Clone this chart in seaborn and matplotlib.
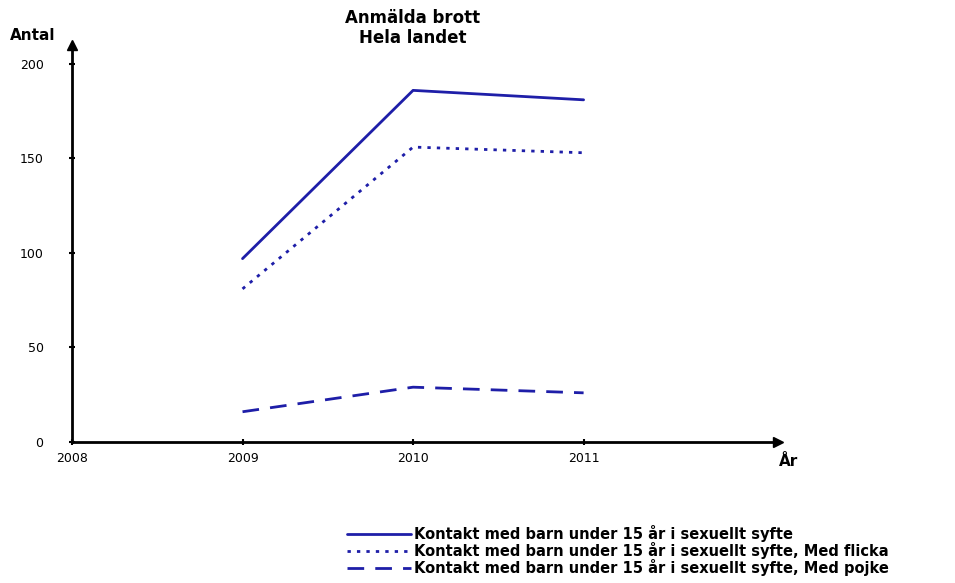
import pandas as pd
import matplotlib
matplotlib.use("Agg")
import matplotlib.pyplot as plt
import seaborn as sns

years = [2009, 2010, 2011]
serie_names = [
    "Kontakt med barn under 15 år i sexuellt syfte",
    "Kontakt med barn under 15 år i sexuellt syfte, Med flicka",
    "Kontakt med barn under 15 år i sexuellt syfte, Med pojke",
]
totalt = [97, 186, 181]
flicka = [81, 156, 153]
pojke = [16, 29, 26]

x_ticks = [2008, 2009, 2010, 2011]
y_ticks = [0, 50, 100, 150, 200]

rows = []
for namn, vals in zip(serie_names, [totalt, flicka, pojke]):
    for ar, v in zip(years, vals):
        rows.append({"ar": ar, "antal": v, "serie": namn})
df = pd.DataFrame(rows)

sns.set_style("white")
plt.rcParams["font.family"] = ["DejaVu Sans"]
plt.rcParams["text.color"] = "black"

blue = "#1e1ea8"
fig = plt.figure(figsize=(9.55, 5.83), dpi=100)
ax = fig.add_axes([72 / 955, 141 / 583, 706 / 955, 397 / 583])

sns.lineplot(data=df, x="ar", y="antal", style="serie", ax=ax,
             color=blue, linewidth=2,
             dashes={serie_names[0]: "", serie_names[1]: (1.2, 2.2),
                     serie_names[2]: (6, 4)},
             legend=False)

ax.set_xlim(2008, 2012.14)
ax.set_ylim(0, 210)
ax.set_xticks(x_ticks)
ax.set_yticks(y_ticks)
ax.set_xlabel("")
ax.set_ylabel("")
for s in ["top", "right"]:
    ax.spines[s].set_visible(False)
for s in ["left", "bottom"]:
    ax.spines[s].set_linewidth(2)
    ax.spines[s].set_color("black")
ax.tick_params(axis="both", direction="inout", length=5, width=1.5,
               labelsize=9, colors="black", bottom=True, left=True)
ax.tick_params(axis="y", pad=18)
ax.tick_params(axis="x", pad=5)

# pilar på axlarna
ax.plot(1, 0, ">", color="black", markersize=7, transform=ax.transAxes, clip_on=False)
ax.plot(0, 1, "^", color="black", markersize=7, transform=ax.transAxes, clip_on=False)

fig.text(10 / 955, 1 - 35 / 583, "Antal", fontsize=11, fontweight="bold", va="center")
fig.text(779 / 955, 1 - 461 / 583, "År", fontsize=11, fontweight="bold", va="center")
fig.text(413 / 955, 1 - 28 / 583, "Anmälda brott\nHela landet", fontsize=12,
         fontweight="bold", ha="center", va="center", linespacing=1.2)

handles = [plt.Line2D([], [], color=blue, lw=2, ls="-"),
           plt.Line2D([], [], color=blue, lw=2, ls=(0, (1.2, 2.2))),
           plt.Line2D([], [], color=blue, lw=2, ls=(0, (6, 4)))]
fig.legend(handles, serie_names, loc="lower left",
           bbox_to_anchor=(340 / 955, 0), frameon=False,
           prop={"size": 10.5, "weight": "bold"}, handlelength=4.4,
           handletextpad=0.2, labelspacing=0.0, borderaxespad=0.1)

fig.savefig("out.png", dpi=100)
